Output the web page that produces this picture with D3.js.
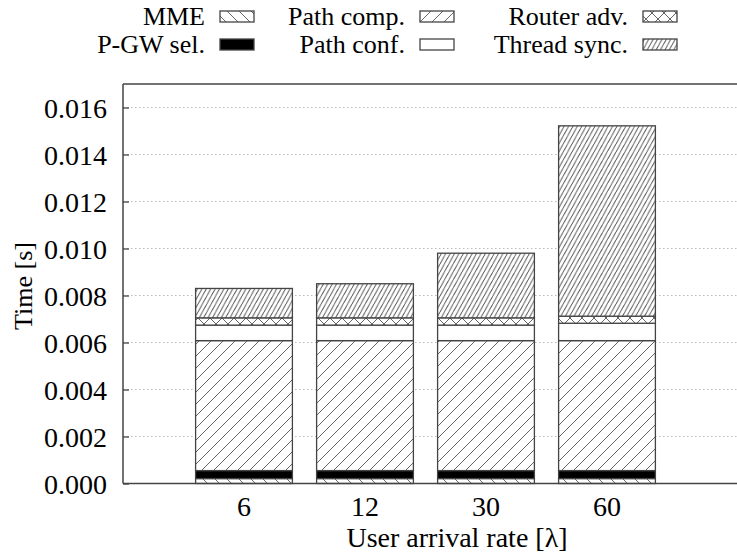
<!DOCTYPE html>
<html>
<head>
<meta charset="utf-8">
<script src="https://cdn.jsdelivr.net/npm/d3@7"></script>
</head>
<body style="margin:0; background:#fff">
<div id="chart"></div>
<script>
// user arrival rate categories
const rates = ["6", "12", "30", "60"];
const keys = ["MME", "P-GW sel.", "Path comp.", "Path conf.", "Router adv.", "Thread sync."];
// seconds, per component, one value per rate
const mme      = [0.00021, 0.00021, 0.00021, 0.00021];
const pgwSel   = [0.00034, 0.00034, 0.00034, 0.00034];
const pathComp = [0.00553, 0.00553, 0.00553, 0.00553];
const pathConf = [0.00066, 0.00066, 0.00066, 0.00074];
const routerAdv= [0.00031, 0.00031, 0.00031, 0.00030];
const threadSync=[0.00125, 0.00145, 0.00275, 0.00810];
const yTicks = [0, 0.002, 0.004, 0.006, 0.008, 0.010, 0.012, 0.014, 0.016];

const series = [mme, pgwSel, pathComp, pathConf, routerAdv, threadSync];
const table = rates.map((r, i) => {
  const row = {rate: r};
  keys.forEach((k, j) => row[k] = series[j][i]);
  return row;
});

const W = 737, H = 554;
const margin = {top: 84, left: 123, bottom: 70.5};
const plotBottom = H - margin.bottom;
const FONT = '"Liberation Serif"';

const svg = d3.select("#chart").append("svg")
  .attr("width", W).attr("height", H);

// fill patterns, gnuplot style
const defs = svg.append("defs");
const lineCol = "#555";
function linePattern(id, w, h, dir) {
  const p = defs.append("pattern").attr("id", id)
    .attr("patternUnits", "userSpaceOnUse")
    .attr("width", w).attr("height", h);
  p.append("rect").attr("width", w).attr("height", h).attr("fill", "#fff");
  const segs = dir === "/" ?
    [[0, h, w, 0], [-w, h, 0, 0], [w, h, 2 * w, 0]] :
    [[0, 0, w, h], [-w, 0, 0, h], [w, 0, 2 * w, h]];
  segs.forEach(s => p.append("line")
    .attr("x1", s[0]).attr("y1", s[1]).attr("x2", s[2]).attr("y2", s[3])
    .attr("stroke", lineCol).attr("stroke-width", 0.9));
  return p;
}
linePattern("p-mme", 12, 12, "\\");
linePattern("p-comp", 12, 12, "/");
linePattern("p-sync", 4.4, 8, "/");
const cross = linePattern("p-adv", 12, 12, "/");
[[0, 0, 12, 12], [-12, 0, 0, 12], [12, 0, 24, 12]].forEach(s => cross.append("line")
  .attr("x1", s[0]).attr("y1", s[1]).attr("x2", s[2]).attr("y2", s[3])
  .attr("stroke", lineCol).attr("stroke-width", 0.9));

const fills = {
  "MME": "url(#p-mme)",
  "P-GW sel.": "#000",
  "Path comp.": "url(#p-comp)",
  "Path conf.": "#fff",
  "Router adv.": "url(#p-adv)",
  "Thread sync.": "url(#p-sync)"
};

const x = d3.scaleLinear().domain([0, rates.length + 1]).range([margin.left, 728]);
const y = d3.scaleLinear().domain([0, 0.017]).range([plotBottom, margin.top]);

// grid
svg.append("g").selectAll("line")
  .data(yTicks.slice(1))
  .join("line")
  .attr("x1", margin.left).attr("x2", W)
  .attr("y1", d => y(d)).attr("y2", d => y(d))
  .attr("stroke", "#bbb").attr("stroke-width", 1)
  .attr("stroke-dasharray", "1.5,2.5");

// bars
const stacked = d3.stack().keys(keys)(table);
const bw = x(0.8) - x(0);
svg.append("g").selectAll("g")
  .data(stacked)
  .join("g")
  .attr("fill", d => fills[d.key])
  .selectAll("rect")
  .data(d => d)
  .join("rect")
  .attr("x", (d, i) => x(i + 1) - bw / 2)
  .attr("width", bw)
  .attr("y", d => y(d[1]))
  .attr("height", d => y(d[0]) - y(d[1]))
  .attr("stroke", "#444").attr("stroke-width", 1.3);

// frame
const frame = svg.append("g").attr("stroke", "#444").attr("stroke-width", 1.5);
frame.append("line").attr("x1", margin.left).attr("x2", W)
  .attr("y1", margin.top).attr("y2", margin.top);
frame.append("line").attr("x1", margin.left).attr("x2", W)
  .attr("y1", plotBottom).attr("y2", plotBottom);
frame.append("line").attr("x1", margin.left).attr("x2", margin.left)
  .attr("y1", margin.top).attr("y2", plotBottom);

// y axis
const yAxis = svg.append("g").attr("transform", `translate(${margin.left},0)`)
  .call(d3.axisRight(y).tickValues(yTicks).tickSize(6).tickFormat(d3.format(".3f")));
yAxis.select(".domain").remove();
yAxis.selectAll(".tick line").attr("stroke", "#444").attr("stroke-width", 1.3);
yAxis.selectAll(".tick text")
  .attr("x", -16).attr("text-anchor", "end").attr("dy", "0.35em")
  .attr("fill", "#000")
  .style("font-family", FONT).style("font-size", "28px");

// x labels
svg.append("g").selectAll("text")
  .data(rates)
  .join("text")
  .attr("x", (d, i) => x(i + 1))
  .attr("y", 516)
  .attr("text-anchor", "middle")
  .style("font-family", FONT).style("font-size", "28px")
  .text(d => d);

svg.append("text")
  .attr("x", 457).attr("y", 547)
  .attr("text-anchor", "middle")
  .style("font-family", FONT).style("font-size", "28px")
  .text("User arrival rate [λ]");

svg.append("text")
  .attr("transform", "translate(32,286) rotate(-90)")
  .attr("text-anchor", "middle")
  .style("font-family", FONT).style("font-size", "26px")
  .text("Time [s]");

// legend, three columns two rows
const legCols = [205, 405, 628];
const legRows = [25, 53];
const leg = svg.append("g").selectAll("g")
  .data(keys)
  .join("g")
  .attr("transform", (d, i) => `translate(${legCols[Math.floor(i / 2)]},${legRows[i % 2]})`);
leg.append("text")
  .attr("text-anchor", "end")
  .style("font-family", FONT).style("font-size", "26px")
  .text(d => d);
leg.append("rect")
  .attr("x", 15).attr("y", -14)
  .attr("width", 34).attr("height", 11)
  .attr("fill", d => fills[d])
  .attr("stroke", "#444").attr("stroke-width", 1.3);
</script>
</body>
</html>
